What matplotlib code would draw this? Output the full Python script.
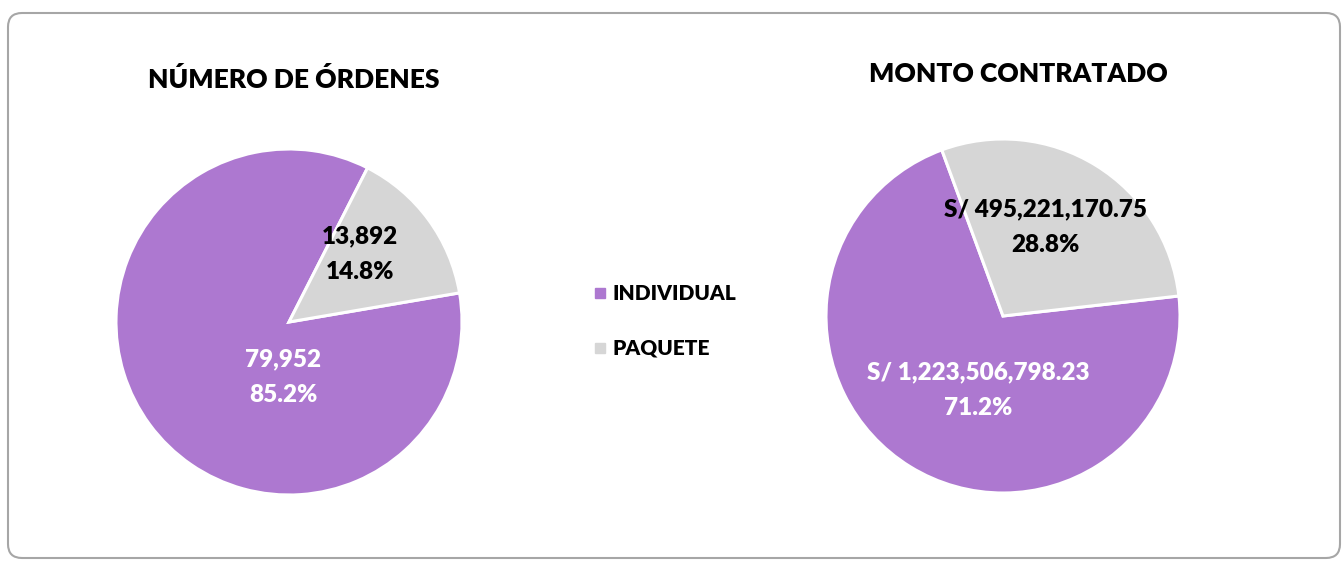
import matplotlib
matplotlib.use("Agg")
import matplotlib.pyplot as plt
from matplotlib.patches import FancyBboxPatch

# data
categories = ["INDIVIDUAL", "PAQUETE"]
ordenes = [79952, 13892]
monto = [1223506798.23, 495221170.75]
ordenes_txt = ["79,952", "13,892"]
monto_txt = ["S/ 1,223,506,798.23", "S/ 495,221,170.75"]
titles = ["NÚMERO DE ÓRDENES", "MONTO CONTRATADO"]

colors = ["#AD78D0", "#D6D6D6"]
txt_colors = ["white", "black"]
font = "Lato"

W, H = 1343, 562
fig = plt.figure(figsize=(W / 100, H / 100), dpi=100)
fig.patch.set_facecolor("white")

# background axes for the rounded border
bg = fig.add_axes([0, 0, 1, 1], zorder=-10)
bg.set_xlim(0, W)
bg.set_ylim(H, 0)
bg.axis("off")
box = FancyBboxPatch((8, 13), 1332, 545,
                     boxstyle="round,pad=0,rounding_size=14",
                     fill=False, edgecolor="#A6A6A6", linewidth=1.5)
bg.add_patch(box)


def pie_axes(cx, cy, r):
    ax = fig.add_axes([(cx - r) / W, (H - cy - r) / H, 2 * r / W, 2 * r / H])
    return ax


def draw(ax, vals, vtxt, start, pos, title, title_xy):
    tot = sum(vals)
    ax.pie(vals, colors=colors, startangle=start, counterclock=False,
           radius=1, wedgeprops=dict(edgecolor="white", linewidth=2.2))
    ax.set_xlim(-1, 1)
    ax.set_ylim(-1, 1)
    ax.set_aspect("equal")
    ax.axis("off")
    for i in range(len(vals)):
        pct = "%.1f%%" % (100 * vals[i] / tot)
        ax.text(pos[i][0], pos[i][1], vtxt[i] + "\n" + pct, ha="center",
                va="center", fontsize=17.5, fontweight="heavy", family=font,
                color=txt_colors[i], linespacing=1.75)
    ax.text(title_xy[0], title_xy[1], title, ha="center", va="center",
            fontsize=19, fontweight="heavy", family=font, color="black",
            clip_on=False)


ax1 = pie_axes(289, 322, 173)
draw(ax1, ordenes, ordenes_txt, 9.7, [(-0.035, -0.32), (0.41, 0.39)],
     titles[0], (0.025, 1.40))

ax2 = pie_axes(1003, 316, 177)
draw(ax2, monto, monto_txt, 6.5, [(-0.14, -0.42), (0.24, 0.50)],
     titles[1], (0.085, 1.37))

# legend
for i, lab in enumerate(categories):
    y = 1 - (293 + 55 * i) / H
    fig.patches.append(plt.Rectangle((595 / W, y - 5 / H), 10 / W, 10 / H,
                                     transform=fig.transFigure,
                                     color=colors[i]))
    fig.text(613 / W, y, lab, fontsize=15, fontweight="heavy", family=font,
             va="center", ha="left")

fig.savefig("out.png", dpi=100)
